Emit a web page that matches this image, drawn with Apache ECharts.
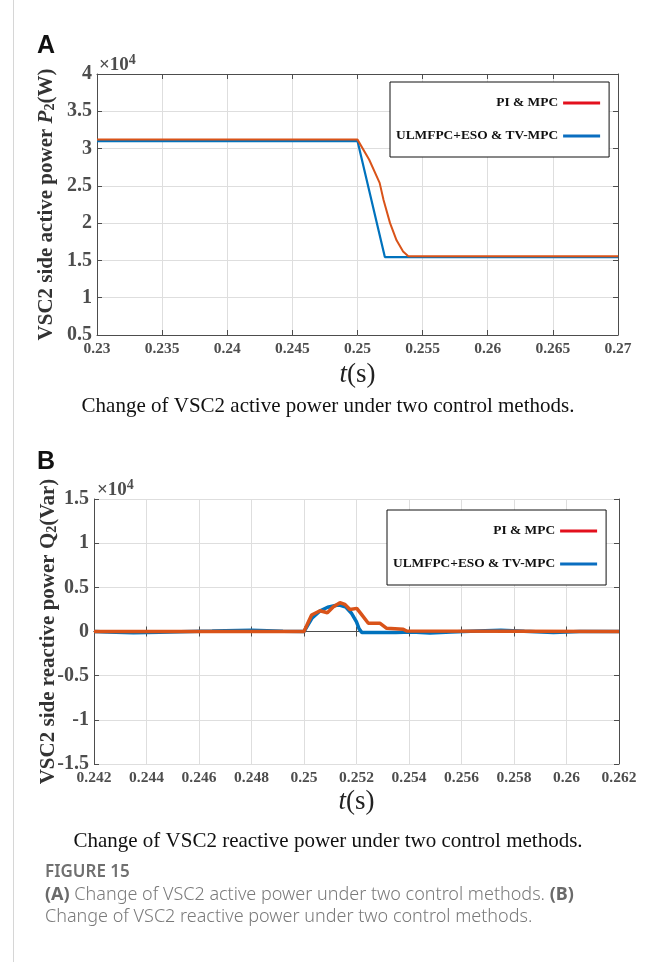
<!DOCTYPE html>
<html>
<head>
<meta charset="utf-8">
<script src="https://cdn.jsdelivr.net/npm/echarts@6/dist/echarts.min.js"></script>
<style>
  html, body { margin: 0; padding: 0; background: #fff; }
  #main { width: 656px; height: 962px; }
</style>
</head>
<body>
<div id="main"></div>
<script>
// panel A : active power P2 (W)
var tA_pi  = [0.23, 0.25, 0.2509, 0.2517, 0.2520, 0.2525, 0.2530, 0.2535, 0.2539, 0.27];
var pA_pi  = [31200, 31200, 28500, 25400, 23100, 20000, 17700, 16200, 15550, 15550];
var tA_eso = [0.23, 0.25, 0.2521, 0.27];
var pA_eso = [31000, 31000, 15450, 15450];

// panel B : reactive power Q2 (Var)
var tB_pi  = [0.242, 0.25, 0.25017, 0.25029, 0.25061, 0.25089, 0.25112, 0.25137, 0.25156, 0.25175,
              0.25201, 0.25216, 0.25245, 0.2529, 0.25315, 0.25378, 0.25391, 0.262];
var qB_pi  = [0, 0, 1100, 1870, 2350, 2130, 2800, 3250, 3070, 2500,
              2620, 2050, 930, 930, 360, 250, 50, 0];
var tB_eso = [0.242, 0.2425, 0.2435, 0.2445, 0.2465, 0.248, 0.2492, 0.25, 0.2503, 0.2506, 0.2509,
              0.2512, 0.25135, 0.2516, 0.2518, 0.2520, 0.2521, 0.2522, 0.2535, 0.2541, 0.2548,
              0.2556, 0.2566, 0.2575, 0.2584, 0.2595, 0.2605, 0.262];
var qB_eso = [0, -50, -150, -80, 50, 150, 30, 0, 1500, 2300, 2750,
              2950, 3000, 2750, 2100, 1100, 300, -100, -100, -50, -180,
              -60, 60, 130, 20, -110, 0, 0];

var xTicksA = {min: 0.23, max: 0.27, step: 0.005};
var xTicksB = {min: 0.242, max: 0.262, step: 0.002};
var yTicksA = {min: 5000, max: 40000, step: 5000};
var yTicksB = {min: -15000, max: 15000, step: 5000};

var names = ['PI & MPC', 'ULMFPC+ESO & TV-MPC'];

function pairs(t, v) {
    var out = [];
    for (var i = 0; i < t.length; i++) out.push([t[i], v[i]]);
    return out;
}

var serif = "'Liberation Serif', 'Times New Roman', serif";
var sans = "'Noto Sans', sans-serif";
var axisColor = '#4d4d4d';
var gridColor = '#dedede';

function xAxisPair(idx, tk, nameGap) {
    return [{
        gridIndex: idx, type: 'value', min: tk.min, max: tk.max, interval: tk.step,
        position: 'bottom',
        axisLine: {show: true, lineStyle: {color: axisColor, width: 1}},
        axisTick: {show: true, inside: true, length: 5, lineStyle: {color: axisColor}},
        splitLine: {show: true, lineStyle: {color: gridColor, width: 1}},
        axisLabel: {
            margin: 6, color: axisColor, fontFamily: serif, fontWeight: 'bold', fontSize: 15.5,
            formatter: function (v) { return String(parseFloat(v.toFixed(3))); }
        },
        name: '{i|t}{n|(s)}', nameLocation: 'middle', nameGap: nameGap, nameMoveOverlap: false,
        nameTextStyle: {
            rich: {
                i: {fontFamily: serif, fontStyle: 'italic', fontSize: 27, color: '#222'},
                n: {fontFamily: serif, fontSize: 27, color: '#222'}
            }
        }
    }, {
        gridIndex: idx, type: 'value', min: tk.min, max: tk.max, interval: tk.step,
        position: 'top',
        axisLine: {show: true, lineStyle: {color: axisColor, width: 1}},
        axisTick: {show: true, inside: true, length: 5, lineStyle: {color: axisColor}},
        splitLine: {show: false},
        axisLabel: {show: false}
    }];
}

function yAxisPair(idx, tk, name, nameGap) {
    return [{
        gridIndex: idx, type: 'value', min: tk.min, max: tk.max, interval: tk.step,
        position: 'left',
        axisLine: {show: true, onZero: false, lineStyle: {color: axisColor, width: 1}},
        axisTick: {show: true, inside: true, length: 5, lineStyle: {color: axisColor}},
        splitLine: {show: true, lineStyle: {color: gridColor, width: 1}},
        axisLabel: {
            margin: 5, color: axisColor, fontFamily: serif, fontWeight: 'bold', fontSize: 20,
            formatter: function (v) { return String(parseFloat((v / 10000).toFixed(2))); }
        },
        name: name, nameLocation: 'middle', nameGap: nameGap, nameRotate: 90, nameMoveOverlap: false,
        nameTextStyle: {
            rich: {
                b: {fontFamily: serif, fontWeight: 'bold', fontSize: 21, color: '#333'},
                i: {fontFamily: serif, fontWeight: 'bold', fontStyle: 'italic', fontSize: 21, color: '#333'},
                s: {fontFamily: serif, fontWeight: 'bold', fontSize: 14, color: '#333', verticalAlign: 'bottom'}
            }
        }
    }, {
        gridIndex: idx, type: 'value', min: tk.min, max: tk.max, interval: tk.step,
        position: 'right',
        axisLine: {show: true, onZero: false, lineStyle: {color: axisColor, width: 1}},
        axisTick: {show: true, inside: true, length: 5, lineStyle: {color: axisColor}},
        splitLine: {show: false},
        axisLabel: {show: false}
    }];
}

function legendFor(left, top) {
    return {
        left: left, top: top, orient: 'vertical', align: 'right',
        selectedMode: false,
        backgroundColor: '#fff',
        borderColor: '#111', borderWidth: 1,
        padding: [14, 9, 14, 6],
        itemGap: 19, itemWidth: 37, itemHeight: 3, icon: 'rect',
        textStyle: {
            width: 162, align: 'right', lineHeight: 14,
            fontFamily: serif, fontWeight: 'bold', fontSize: 13.4, color: '#111'
        },
        data: [
            {name: names[0], itemStyle: {color: '#e3101d'}},
            {name: names[1], itemStyle: {color: '#0a6ec0'}}
        ]
    };
}

var xA = xAxisPair(0, xTicksA, 26);
var xB = xAxisPair(1, xTicksB, 24);
var yA = yAxisPair(0, yTicksA, '{b|VSC2 side active power }{i|P}{s|2}{b|(W)}', 40);
var yB = yAxisPair(1, yTicksB, '{b|VSC2 side reactive power Q}{s|2}{b|(Var)}', 35);

var option = {
    animation: false,
    backgroundColor: '#fff',
    title: [
        {text: 'A', left: 37, top: 34, padding: 0,
         textStyle: {fontFamily: "'Liberation Sans', Arial, sans-serif", fontWeight: 'bold', fontSize: 25, color: '#111'}},
        {text: '×10{s|4}', left: 99, top: 53, padding: 0,
         textStyle: {fontFamily: serif, fontSize: 19, color: axisColor,
                     rich: {s: {fontFamily: serif, fontSize: 14, color: axisColor, verticalAlign: 'top', padding: [0, 0, 10, 0]}}}},
        {text: 'Change of VSC2 active power under two control methods.', left: 'center', top: 396, padding: 0,
         textStyle: {fontFamily: serif, fontWeight: 'normal', fontSize: 21, color: '#111'}},
        {text: 'B', left: 37, top: 450, padding: 0,
         textStyle: {fontFamily: "'Liberation Sans', Arial, sans-serif", fontWeight: 'bold', fontSize: 25, color: '#111'}},
        {text: '×10{s|4}', left: 97, top: 478, padding: 0,
         textStyle: {fontFamily: serif, fontSize: 19, color: axisColor,
                     rich: {s: {fontFamily: serif, fontSize: 14, color: axisColor, verticalAlign: 'top', padding: [0, 0, 10, 0]}}}},
        {text: 'Change of VSC2 reactive power under two control methods.', left: 'center', top: 831, padding: 0,
         textStyle: {fontFamily: serif, fontWeight: 'normal', fontSize: 21, color: '#111'}},
        {text: 'FIGURE 15', left: 45, top: 864, padding: 0,
         textStyle: {fontFamily: sans, fontWeight: 600, fontSize: 17, color: '#707070'}},
        {text: '{b|(A)} Change of VSC2 active power under two control methods. {b|(B)}\nChange of VSC2 reactive power under two control methods.',
         left: 45, top: 884, padding: 0,
         textStyle: {fontFamily: sans, fontWeight: 300, fontSize: 18, lineHeight: 22, color: '#7a7a7a',
                     rich: {b: {fontFamily: sans, fontWeight: 'bold', fontSize: 18, lineHeight: 22, color: '#6a6a6a'}}}}
    ],
    graphic: [
        {type: 'line', shape: {x1: 13.5, y1: 0, x2: 13.5, y2: 962}, style: {stroke: '#d6d6d6', lineWidth: 1}, silent: true}
    ],
    legend: [legendFor(390, 82), legendFor(387, 510)],
    grid: [
        {left: 97, top: 74, width: 521, height: 261},
        {left: 94, top: 499, width: 525, height: 265}
    ],
    xAxis: [xA[0], xA[1], xB[0], xB[1]],
    yAxis: [yA[0], yA[1], yB[0], yB[1]],
    series: [
        {name: names[1], type: 'line', xAxisIndex: 0, yAxisIndex: 0, showSymbol: false,
         lineStyle: {color: '#0072BD', width: 2.2}, itemStyle: {color: '#0072BD'}, data: pairs(tA_eso, pA_eso)},
        {name: names[0], type: 'line', xAxisIndex: 0, yAxisIndex: 0, showSymbol: false,
         lineStyle: {color: '#D95319', width: 2}, itemStyle: {color: '#D95319'}, data: pairs(tA_pi, pA_pi)},
        {name: names[1], type: 'line', xAxisIndex: 2, yAxisIndex: 2, showSymbol: false,
         lineStyle: {color: '#0072BD', width: 3.5}, itemStyle: {color: '#0072BD'}, data: pairs(tB_eso, qB_eso)},
        {name: names[0], type: 'line', xAxisIndex: 2, yAxisIndex: 2, showSymbol: false,
         lineStyle: {color: '#D95319', width: 3.5}, itemStyle: {color: '#D95319'}, data: pairs(tB_pi, qB_pi)}
    ]
};

var chart = echarts.init(document.getElementById('main'), null, {renderer: 'canvas'});
chart.setOption(option);
</script>
</body>
</html>
